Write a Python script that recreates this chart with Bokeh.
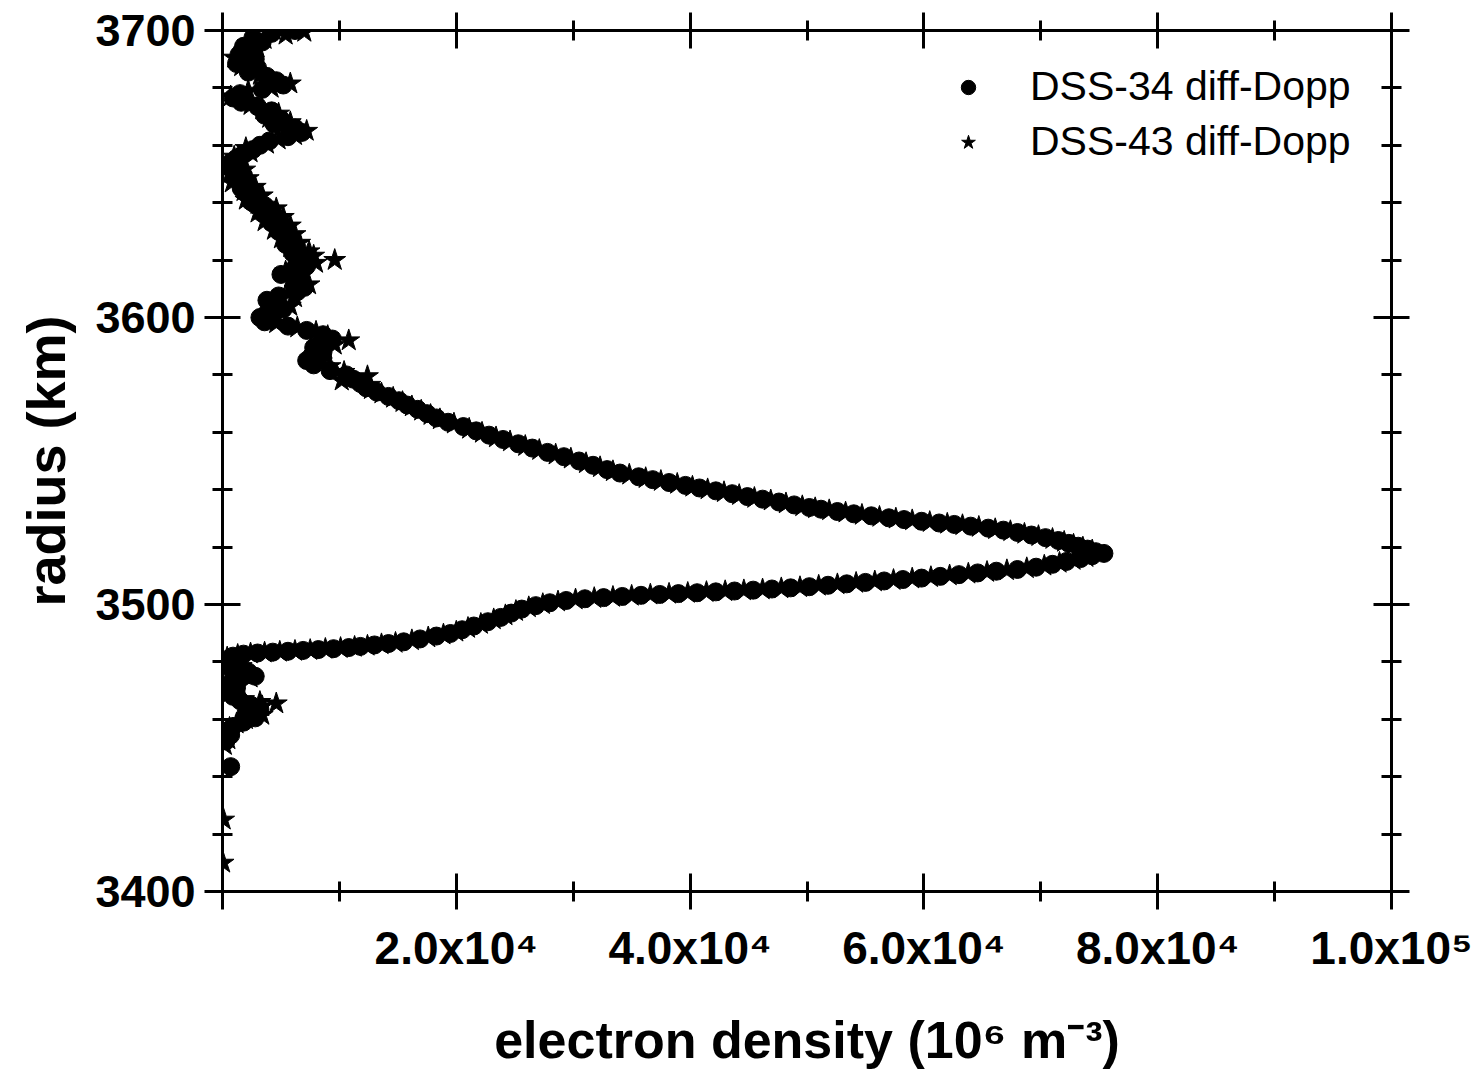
from bokeh.plotting import figure
from bokeh.models import FixedTicker, LinearAxis, Range1d, Legend, LegendItem
from bokeh.embed import file_html
from bokeh.resources import INLINE

# ---------------- data ----------------
# DSS-34 diff-Dopp : radius (km) and electron density (1e6 m^-3)
dss34_radius = [
    3700, 3699, 3697.5, 3696, 3694.5, 3693, 3691.5, 3690, 3688.5, 3687,
    3685.5, 3684, 3682.5, 3681, 3679.5, 3678, 3676.5, 3675, 3673.5, 3672,
    3670.5, 3669, 3667.5, 3666, 3664.5, 3663, 3661.5, 3660, 3658.5, 3657,
    3655.5, 3654, 3652.5, 3651, 3649.5, 3648, 3646.5, 3645, 3643.5, 3642,
    3640.5, 3639, 3637.5, 3636, 3634.5, 3633, 3631.5, 3630, 3628.5, 3627,
    3625.5, 3624, 3622.5, 3621, 3619.5, 3618, 3616.5, 3615, 3613.5, 3612,
    3610.5, 3609, 3607.5, 3606, 3604.5, 3603, 3601.5, 3600, 3598.5, 3597,
    3595.5, 3594, 3592.5, 3591, 3589.5, 3588, 3586.5, 3585, 3583.5,
    3581.5, 3580, 3578.5, 3577, 3575.5, 3574, 3572.5, 3571, 3569.5, 3568,
    3566.5, 3565, 3563.5, 3562, 3560.5, 3559, 3557.5, 3556, 3554.5, 3553,
    3551.5, 3550, 3548.5, 3547, 3545.8, 3544.5, 3543.5, 3542.5, 3541.5, 3540.6,
    3539.6, 3538.6, 3537.6, 3536.7, 3535.7, 3534.7, 3533.8, 3533.2, 3532.4, 3531.6,
    3530.9, 3530.2, 3529.6, 3529.0, 3528.4, 3527.9, 3527.3, 3526.6, 3525.9, 3525.1,
    3524.2, 3523.3, 3522.3, 3521.3, 3520.3, 3519.3, 3518.4, 3517.8,
    3517.0, 3516.0, 3515.0, 3514.0, 3513.0, 3512.2, 3511.6, 3511.0, 3510.4, 3509.8,
    3509.2, 3508.7, 3508.2, 3507.7, 3507.2, 3506.7, 3506.2, 3505.8, 3505.4, 3505.0,
    3504.7, 3504.4, 3504.1, 3503.8, 3503.5, 3503.2, 3502.8, 3502.4, 3502.0, 3501.4,
    3500.6, 3499.6, 3498.4, 3497.0, 3495.5, 3494.0, 3492.5, 3491.2, 3489.9, 3489.0,
    3488.0, 3487.0, 3486.4, 3485.9, 3485.4, 3485.0, 3484.6, 3484.3, 3484.0, 3483.7,
    3483.4, 3483.1, 3482.7, 3482.0, 3481.0,
    3479.5, 3478, 3476.5, 3475, 3474, 3472.5, 3471, 3469.5, 3468, 3466.5,
    3465, 3463.5, 3462, 3460.5, 3459, 3457.5, 3456, 3454.5, 3452.5, 3443.5,
]
dss34_density = [
    6200, 4200, 2600, 3400, 1800, 2600, 1400, 2800, 1200, 3000,
    2200, 3800, 4600, 5200, 3400, 1500, 900, 1600, 3000, 4200,
    3600, 5000, 4400, 6200, 6800, 5600, 4000, 3200, 2600, 1800,
    1200, 700, 1400, 900, 1800, 1200, 2200, 1600, 2600, 3000,
    2400, 3600, 4200, 3600, 4800, 4200, 5400, 4800, 5600, 6000,
    5400, 6400, 6000, 7000, 6400, 7200, 6000, 5000, 6200, 6800,
    7000, 6400, 4800, 3800, 4400, 5200, 3800, 3200, 3600, 5600,
    7200, 8600, 9400, 8400, 7800, 8600, 7600, 7200, 7800,
    9200, 10600, 11200, 11800, 12300, 13200, 14200, 15100, 15800, 16700,
    17500, 18300, 19300, 20600, 21700, 22800, 24000, 25300, 26500, 27800,
    29200, 30500, 31700, 32900, 34000, 35600, 36800, 38200, 39600, 40800,
    42200, 43600, 44900, 46200, 47600, 48900, 50200, 51200, 52600, 54000,
    55500, 57000, 58300, 59800, 61300, 62600, 64000, 65500, 66800, 68000,
    69200, 70400, 71500, 72400, 73200, 74000, 74700, 75400,
    74400, 73400, 72200, 71000, 69600, 68000, 66200, 64600, 63000, 61400,
    59800, 58200, 56600, 55000, 53400, 51800, 50200, 48600, 47000, 45400,
    43800, 42200, 40600, 39000, 37400, 35800, 34200, 32600, 31000, 29400,
    28000, 26800, 25600, 24700, 23800, 22700, 21500, 20500, 19500, 18300,
    16900, 15500, 14200, 13000, 11800, 10800, 9500, 8200, 6900, 5600,
    4300, 3000, 1800, 900, 500,
    1200, 600, 2200, 2800, 1400, 600, 1200, 500, 900, 1500,
    2400, 3200, 2000, 2800, 1800, 900, 400, 700, 300, 700,
]

# DSS-43 diff-Dopp
dss43_radius = [
    3700, 3699.5, 3698.5, 3697, 3695.5, 3694, 3692, 3690.5, 3689, 3687.5,
    3686, 3684.5, 3683, 3681.5, 3680, 3679, 3677, 3675.5, 3674, 3672.5,
    3671, 3669.5, 3668, 3666.5, 3665, 3663.5, 3662, 3660.5, 3659, 3657.5,
    3656, 3654.5, 3653, 3651.5, 3650, 3648.5, 3647, 3645.5, 3644, 3642.5,
    3641, 3639.5, 3638, 3636.5, 3635, 3633.5, 3632, 3630.5, 3629, 3627.5,
    3626, 3624.5, 3623, 3621.5, 3620, 3619, 3617.5, 3616, 3614.5, 3613,
    3611.5, 3610, 3608.5, 3607, 3605.5, 3604, 3602.5, 3601, 3599.5, 3598,
    3596.5, 3595, 3593.5, 3592, 3590.5, 3589, 3587.5, 3586, 3584.5, 3583,
    3581, 3579.5, 3578, 3576.5,
    3575, 3573.5, 3572, 3570.5, 3569, 3567.5, 3566, 3564.5, 3563, 3561.2,
    3559.8, 3558.2, 3556.8, 3555.2, 3553.8, 3552.2, 3550.8, 3549.2, 3547.8, 3546.4,
    3545.2, 3544.0, 3543.0, 3542.0, 3541.0, 3540.1, 3539.1, 3538.1, 3537.1, 3536.2,
    3535.2, 3534.2, 3533.5, 3532.8, 3532.0, 3531.2, 3530.5, 3529.9, 3529.3, 3528.7,
    3528.1, 3527.6, 3527.0, 3526.2, 3525.5, 3524.6, 3523.8, 3522.8, 3521.8, 3520.8,
    3519.8, 3518.8,
    3516.5, 3515.5, 3514.5, 3513.5, 3512.6, 3511.9, 3511.3, 3510.7, 3510.1, 3509.5,
    3509.0, 3508.5, 3508.0, 3507.5, 3507.0, 3506.5, 3506.0, 3505.6, 3505.2, 3504.9,
    3504.6, 3504.3, 3504.0, 3503.7, 3503.4, 3503.0, 3502.6, 3502.2, 3501.7, 3501.0,
    3500.1, 3499.0, 3497.7, 3496.2, 3494.8, 3493.2, 3491.8, 3490.5, 3489.5, 3488.5,
    3487.5, 3486.6, 3486.1, 3485.6, 3485.2, 3484.8, 3484.5, 3484.1, 3483.8, 3483.5,
    3483.2, 3482.9, 3482.4, 3481.5,
    3480, 3478.5, 3477, 3475.5, 3474.5, 3473, 3471.5, 3470, 3468.5, 3467,
    3466, 3465.5, 3464.5, 3463, 3461.5, 3460, 3458.5, 3457, 3455, 3453,
    3451, 3425, 3410,
]
dss43_density = [
    4400, 7000, 5400, 3600, 2200, 3000, 1900, 1000, 2000, 1600,
    2600, 3200, 4000, 5800, 4200, 2200, 700, 2100, 2400, 3400,
    4800, 4000, 5800, 5000, 7200, 6200, 4800, 3800, 2000, 2400,
    1000, 1800, 500, 1900, 600, 2200, 800, 2800, 1800, 3400,
    2000, 3000, 4600, 3000, 5200, 3600, 5800, 4400, 6200, 5000,
    6600, 5800, 7400, 7800, 9600, 8000, 6600, 5400, 6800, 5800,
    7400, 6200, 5600, 6200, 4600, 5800, 4400, 4600, 3800, 4600,
    6400, 8000, 9000, 10800, 9600, 8800, 8200, 8400, 8400, 9200,
    10400, 12400, 10200, 12600,
    12700, 13600, 14600, 15400, 16200, 17000, 17800, 18600, 19800, 21100,
    22200, 23400, 24600, 25900, 27100, 28500, 29800, 31100, 32300, 33400,
    34800, 36200, 37500, 38900, 40200, 41500, 42900, 44200, 45500, 46900,
    48200, 49600, 50700, 51900, 53300, 54700, 56200, 57600, 59000, 60500,
    62000, 63300, 64700, 66100, 67400, 68600, 69800, 71000, 72000, 72800,
    73600, 74400,
    73900, 72800, 71600, 70300, 68800, 67100, 65400, 63800, 62200, 60600,
    59000, 57400, 55800, 54200, 52600, 51000, 49400, 47800, 46200, 44600,
    43000, 41400, 39800, 38200, 36600, 35000, 33400, 31800, 30200, 28700,
    27400, 26200, 25100, 24200, 23200, 22100, 21000, 20000, 18900, 17600,
    16200, 14800, 13600, 12400, 11300, 10100, 8800, 7500, 6200, 4900,
    3600, 2400, 1300, 400,
    300, 1600, 900, 1800, 2400, 800, 300, 1000, 400, 1800,
    3200, 4600, 3400, 2400, 3400, 2000, 1200, 600, 200, 500,
    200, 100, 50,
]

x_ticks = [0, 20000, 40000, 60000, 80000, 100000]
x_minor_ticks = [10000, 30000, 50000, 70000, 90000]
x_tick_labels = ["", "2.0x10\u2074", "4.0x10\u2074", "6.0x10\u2074", "8.0x10\u2074", "1.0x10\u2075"]
y_ticks = [3400, 3500, 3600, 3700]
y_minor_ticks = [3420, 3440, 3460, 3480, 3520, 3540, 3560, 3580, 3620, 3640, 3660, 3680]
y_tick_labels = ["3400", "3500", "3600", "3700"]
series_labels = ["DSS-34 diff-Dopp", "DSS-43 diff-Dopp"]
x_title = "electron density (10\u2076 m\u207b\u00b3)"
y_title = "radius (km)"

FONT = "Liberation Sans"

p = figure(
    width=1477, height=1075,
    x_range=Range1d(0, 100000), y_range=Range1d(3400, 3700),
    output_backend="svg", toolbar_location=None,
    min_border_left=222, min_border_right=86, min_border_top=30, min_border_bottom=184,
    x_axis_label=x_title, y_axis_label=y_title,
)
p.background_fill_color = "white"
p.border_fill_color = "white"
p.outline_line_color = None
p.xgrid.visible = False
p.ygrid.visible = False


def style_axis(ax, ticks, minor, labels, font_size, standoff):
    ax.ticker = FixedTicker(ticks=ticks, minor_ticks=minor)
    ax.major_label_overrides = {t: l for t, l in zip(ticks, labels)}
    ax.axis_line_color = "black"
    ax.axis_line_width = 3
    ax.major_tick_line_width = 3
    ax.minor_tick_line_width = 3
    ax.major_tick_in = 18
    ax.major_tick_out = 18
    ax.minor_tick_in = 10
    ax.minor_tick_out = 10
    ax.major_tick_line_color = "black"
    ax.minor_tick_line_color = "black"
    ax.major_label_text_font = FONT
    ax.major_label_text_font_style = "bold"
    ax.major_label_text_font_size = font_size
    ax.major_label_text_color = "black"
    ax.major_label_standoff = standoff


xa = p.xaxis[0]
ya = p.yaxis[0]
style_axis(xa, x_ticks, x_minor_ticks, x_tick_labels, "46px", 12)
style_axis(ya, y_ticks, y_minor_ticks, y_tick_labels, "45px", 9)
for ax, st, fs in ((xa, 34, "52px"), (ya, 16, "54px")):
    ax.axis_label_text_font = FONT
    ax.axis_label_text_font_style = "bold"
    ax.axis_label_text_font_size = fs
    ax.axis_label_text_color = "black"
    ax.axis_label_standoff = st

top = LinearAxis()
right = LinearAxis()
style_axis(top, x_ticks, x_minor_ticks, [""] * len(x_ticks), "1px", 0)
style_axis(right, y_ticks, y_minor_ticks, [""] * len(y_ticks), "1px", 0)
p.add_layout(top, "above")
p.add_layout(right, "right")

r34 = p.scatter(dss34_density, dss34_radius, marker="circle", size=18,
                fill_color="black", line_color="black")
r43 = p.scatter(dss43_density, dss43_radius, marker="star", size=23,
                fill_color="black", line_color="black")

legend = Legend(
    items=[LegendItem(label=series_labels[0], renderers=[r34]),
           LegendItem(label=series_labels[1], renderers=[r43])],
    location=(728, 726),
    glyph_width=36, glyph_height=36, spacing=8, label_standoff=44,
    padding=0, margin=0,
    border_line_color=None, background_fill_alpha=0,
    label_text_font=FONT, label_text_font_size="41px", label_text_color="black",
)
p.add_layout(legend)

open("out.html", "w").write(file_html(p, INLINE))
